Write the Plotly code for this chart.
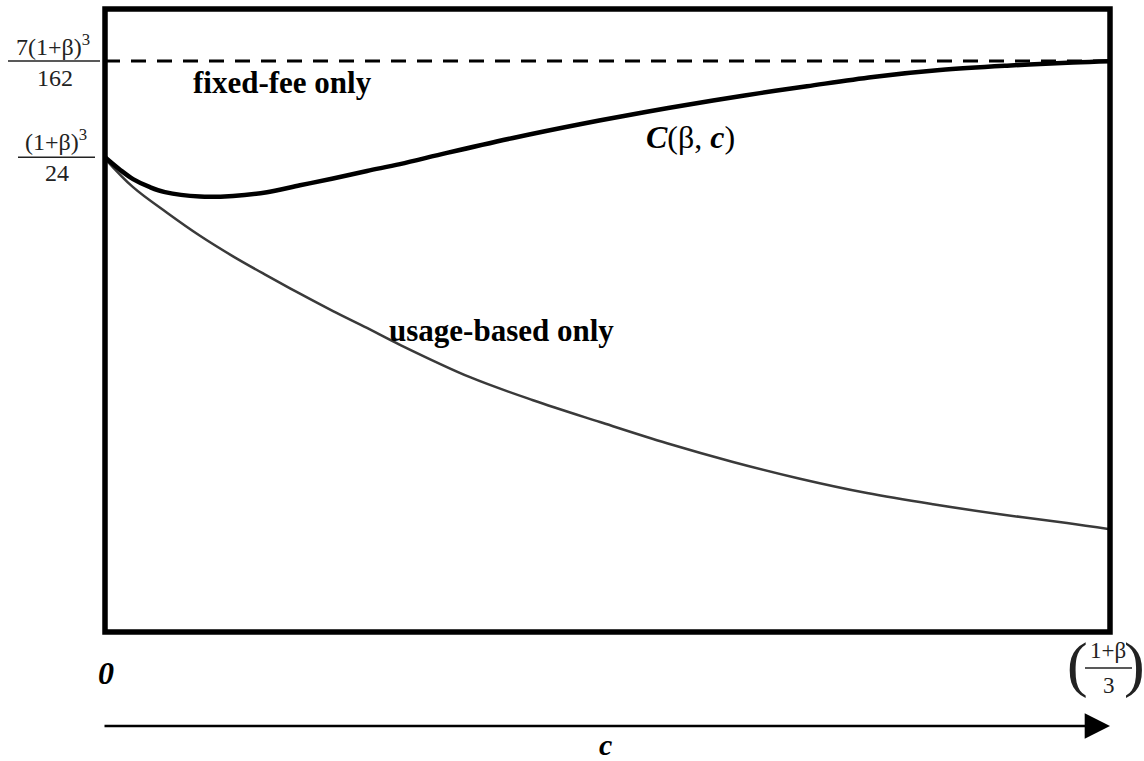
import plotly.graph_objects as go

# ---- data (x = c / ((1+β)/3), y = arbitrary schematic units) ----
c_x = [0.0, 0.0149, 0.0279, 0.0448, 0.0597, 0.0945, 0.1274, 0.1612, 0.1940, 0.2269,
       0.2607, 0.2935, 0.3403, 0.4060, 0.4726, 0.5393, 0.6050, 0.6517, 0.6985,
       0.7642, 0.8308, 0.8975, 0.9632, 1.0]
c_y = [76.2, 74.2, 72.7, 71.4, 70.6, 69.9, 70.0, 70.6, 71.7, 72.8,
       74.0, 75.1, 76.9, 79.3, 81.5, 83.5, 85.3, 86.5, 87.6,
       89.1, 90.2, 90.9, 91.4, 91.6]

usage_x = [0.0, 0.0279, 0.0617, 0.0945, 0.1274, 0.1612, 0.1940, 0.2269, 0.2607, 0.2935,
           0.3632, 0.4259, 0.4925, 0.5592, 0.6249, 0.6915, 0.7582, 0.8239, 0.8905,
           0.9572, 1.0]
usage_y = [76.0, 71.4, 67.3, 63.6, 60.3, 57.2, 54.3, 51.5, 48.8, 46.1,
           40.9, 37.2, 33.7, 30.3, 27.3, 24.6, 22.3, 20.5, 18.9,
           17.5, 16.5]

fixed_x = [0.0, 1.0]
fixed_y = [91.65, 91.65]

start_level = 76.2

W, H = 1144, 761
ML, MR, MT, MB = 105, 34, 9, 129
PW, PH = W - ML - MR, H - MT - MB


def px(x):
    return (x - ML) / PW


def py(y):
    return (H - MB - y) / PH


SERIF = "Liberation Serif, Times New Roman, serif"

fig = go.Figure()
fig.add_trace(go.Scatter(x=fixed_x, y=fixed_y, mode="lines",
                         line=dict(color="black", width=3, dash="15px,11px"),
                         hoverinfo="skip"))
fig.add_trace(go.Scatter(x=usage_x, y=usage_y, mode="lines",
                         line=dict(color="#3a3a3a", width=2.5, shape="spline"),
                         hoverinfo="skip"))
fig.add_trace(go.Scatter(x=c_x, y=c_y, mode="lines",
                         line=dict(color="black", width=4.5, shape="spline"),
                         hoverinfo="skip"))

shapes = [
    dict(type="rect", xref="paper", yref="paper", x0=0, y0=0, x1=1, y1=1,
         line=dict(color="black", width=5.5)),
    # fraction bars of the left labels
    dict(type="line", xref="paper", yref="y", x0=px(8), x1=px(100),
         y0=fixed_y[0], y1=fixed_y[0], line=dict(color="#222", width=1.5)),
    dict(type="line", xref="paper", yref="y", x0=px(18), x1=px(95),
         y0=start_level, y1=start_level, line=dict(color="#222", width=1.5)),
    # fraction bar of the right label
    dict(type="line", xref="paper", yref="paper", x0=px(1085), x1=px(1132),
         y0=py(668), y1=py(668), line=dict(color="#222", width=1.5)),
]

ann = []


def T(text, x, y, size, xref="paper", yref="paper", color="black", **kw):
    ann.append(dict(text=text, x=x, y=y, xref=xref, yref=yref, showarrow=False,
                    font=dict(family=SERIF, size=size, color=color),
                    xanchor="center", yanchor="middle", **kw))


# left labels
T("7(1+β)<sup>3</sup>", px(53), fixed_y[0], 24, yref="y", yshift=16, color="#222")
T("162", px(55), fixed_y[0], 24, yref="y", yshift=-17, color="#222")
T("(1+β)<sup>3</sup>", px(56), start_level, 24, yref="y", yshift=17, color="#222")
T("24", px(57), start_level, 24, yref="y", yshift=-16, color="#222")

# curve labels
T("<b>fixed-fee only</b>", px(282), py(82), 31)
T("<b>usage-based only</b>", px(501), py(331), 31)
T("<b><i>C</i></b>(β, <b><i>c</i></b>)", px(690), py(137), 32)

# axis labels
T("<b><i>0</i></b>", px(106), py(673), 32)
T("<b><i>c</i></b>", px(605), py(744), 30)

# right label
T("(", px(1077), py(664), 62, color="#222")
T(")", px(1134), py(664), 62, color="#222")
T("1+β", px(1108), py(650), 23, color="#222")
T("3", px(1109), py(685), 23, color="#222")

# arrow along c
ann.append(dict(x=1, y=py(726), xref="paper", yref="paper", ax=-1007, ay=0,
                axref="pixel", ayref="pixel", text="", showarrow=True,
                arrowhead=2, arrowsize=2.2, arrowwidth=2.3, arrowcolor="black"))

fig.update_layout(
    width=W, height=H,
    margin=dict(l=ML, r=MR, t=MT, b=MB, pad=0),
    paper_bgcolor="white", plot_bgcolor="white",
    showlegend=False,
    xaxis=dict(range=[0, 1], visible=False, fixedrange=True),
    yaxis=dict(range=[0, 100], visible=False, fixedrange=True),
    shapes=shapes, annotations=ann,
)

fig.write_html("out.html", config={"displayModeBar": False})
